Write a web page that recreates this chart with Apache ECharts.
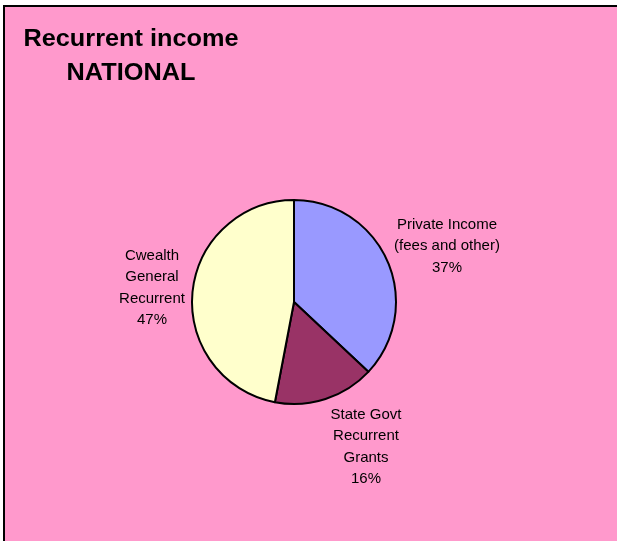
<!DOCTYPE html>
<html>
<head>
<meta charset="utf-8">
<script src="https://cdn.jsdelivr.net/npm/echarts@6/dist/echarts.min.js"></script>
<style>
  html, body { margin: 0; padding: 0; background: #ffffff; width: 617px; height: 541px; overflow: hidden; }
  #bg { position: absolute; left: 3px; top: 5px; width: 612px; height: 540px; background: #FF99CC; border-top: 2px solid #000; border-left: 2px solid #000; }
  #chart { position: absolute; left: 0; top: 0; width: 617px; height: 541px; }
</style>
</head>
<body>
<div id="bg"></div>
<div id="chart"></div>
<script>
const categories = ['Private Income\n(fees and other)', 'State Govt\nRecurrent\nGrants', 'Cwealth\nGeneral\nRecurrent'];
const values = [37, 16, 47];
const colors = ['#9999FF', '#993366', '#FFFFCC'];
const titleLines = ['Recurrent income', 'NATIONAL'];

const labelPos = [
  { x: 447, y: 246 },
  { x: 366, y: 447 },
  { x: 152, y: 288 }
];

const chart = echarts.init(document.getElementById('chart'), null, { renderer: 'canvas' });
chart.setOption({
  backgroundColor: 'transparent',
  animation: false,
  graphic: [{
    type: 'text',
    x: 131,
    y: 57,
    scaleX: 1.1,
    style: {
      text: titleLines.join('\n'),
      font: 'bold 23px "Liberation Sans", Arial, sans-serif',
      fill: '#000',
      align: 'center',
      verticalAlign: 'middle',
      lineHeight: 34
    }
  }],
  series: [{
    type: 'pie',
    center: [294, 302],
    radius: [0, 102],
    startAngle: 90,
    clockwise: true,
    data: categories.map((c, i) => ({ name: c, value: values[i], itemStyle: { color: colors[i] } })),
    itemStyle: { borderColor: '#000', borderWidth: 2 },
    emphasis: { disabled: true },
    label: {
      show: true,
      position: 'outside',
      formatter: '{b}\n{d}%',
      fontFamily: '"Liberation Sans", Arial, sans-serif',
      fontSize: 15,
      lineHeight: 21.5,
      color: '#000',
      align: 'center'
    },
    labelLine: { show: false },
    labelLayout: function (params) {
      const p = labelPos[params.dataIndex];
      return { x: p.x, y: p.y, align: 'center', verticalAlign: 'middle' };
    }
  }]
});
</script>
</body>
</html>
